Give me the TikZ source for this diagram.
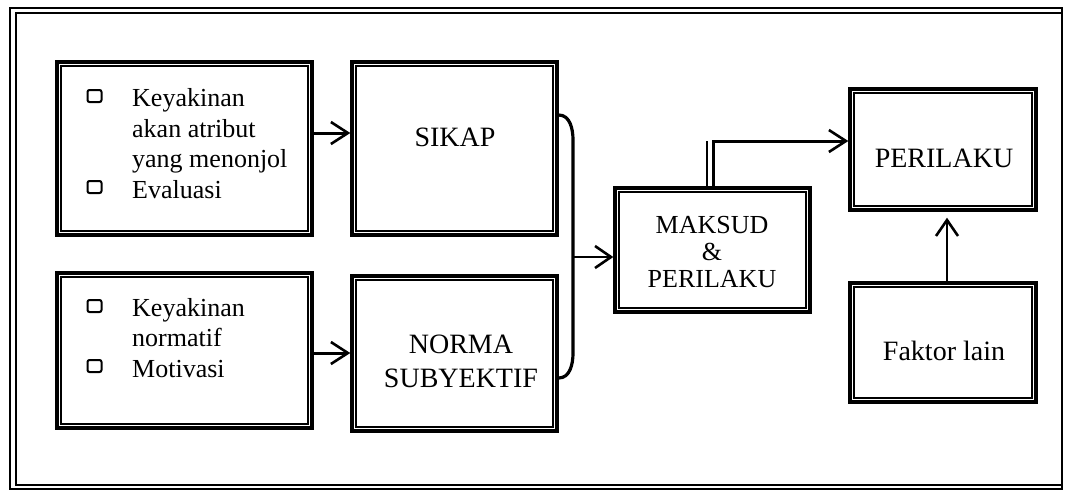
\documentclass[tikz,border=0pt]{standalone}
\usepackage{fontspec}
\setmainfont{Liberation Serif}
\usetikzlibrary{arrows.meta}
\tikzset{
  px/.style={x=1pt,y=-1pt},
  dbox/.style={draw,rectangle,line width=3.4pt,inner sep=0pt},
  lbl/.style={font=\fontsize{28}{34}\selectfont,align=center,inner sep=0pt},
  small/.style={font=\fontsize{26}{27}\selectfont,align=center,inner sep=0pt},
  listtxt/.style={font=\fontsize{26}{30.5}\selectfont,align=left,inner sep=0pt,anchor=base west},
  bul/.style={draw,rectangle,rounded corners=2pt,line width=2pt,minimum width=14pt,minimum height=12pt,inner sep=0pt},
  conn/.style={line width=3pt,-{Straight Barb[length=17pt,width=22pt,line width=2.6pt]}},
  thinconn/.style={line width=2.2pt,-{Straight Barb[length=16pt,width=22pt,line width=2.6pt]}},
}
\newcommand{\innerframe}[1]{\draw[line width=2pt] ([shift={(5.5pt,-5.5pt)}]#1.north west) rectangle ([shift={(-5.5pt,5.5pt)}]#1.south east);}
\begin{document}
\begin{tikzpicture}[px]
\useasboundingbox (0,0) rectangle (1067,493);
% outer frame
\draw[line width=2.4pt] (10,8) rectangle (1062,489);
\draw[line width=1.8pt] (1062,13) -- (16,13) -- (16,485) -- (1062,485);
% boxes
\node[dbox,minimum width=255pt,minimum height=173pt] (b1) at (184.5,148.5) {};
\node[dbox,minimum width=205pt,minimum height=173pt] (sikap) at (454.5,148.5) {};
\node[dbox,minimum width=255pt,minimum height=155pt] (b2) at (184.5,350.5) {};
\node[dbox,minimum width=205pt,minimum height=155pt] (norma) at (454.5,353.5) {};
\node[dbox,minimum width=195pt,minimum height=124pt] (maksud) at (712.5,250) {};
\node[dbox,minimum width=186pt,minimum height=121pt] (perilaku) at (943,149.5) {};
\node[dbox,minimum width=186pt,minimum height=119pt] (faktor) at (943,342.5) {};
\innerframe{b1}\innerframe{sikap}\innerframe{b2}\innerframe{norma}
\innerframe{maksud}\innerframe{perilaku}\innerframe{faktor}
% texts
\node[lbl] (sikapT) at (455,137) {SIKAP};
\node[lbl] (normaT) at (461,361) {NORMA\\SUBYEKTIF};
\node[small] (maksudT) at (712,252) {MAKSUD\\\&\\PERILAKU};
\node[lbl] (perilakuT) at (944,158) {PERILAKU};
\node[lbl] (faktorT) at (944,351) {Faktor lain};
\node[listtxt] (l1) at (132,198) {Keyakinan\\akan atribut\\yang menonjol\\Evaluasi};
\node[listtxt] (l2) at (132,377) {Keyakinan\\normatif\\Motivasi};
\node[bul] (k1) at (94.5,96) {};
\node[bul] (k2) at (94.5,187) {};
\node[bul] (k3) at (94.5,306) {};
\node[bul] (k4) at (94.5,366) {};
% connectors
\draw[conn] (b1.east |- 0,133) -- (sikap.west |- 0,133);
\draw[conn] (b2.east |- 0,353) -- (norma.west |- 0,353);
\draw[line width=3.2pt] (sikap.east |- 0,115) to[out=0,in=90] (573,140) coordinate (bt)
  -- (573,353) to[out=-90,in=0] (norma.east |- 0,378);
\coordinate (bm) at (573,257);
\draw[thinconn] (bm) -- (maksud.west |- bm);
\draw[conn] (maksud.north -| 713,0) -- (713,141) -- (perilaku.west |- 0,141);
\draw[line width=2.2pt] (maksud.north -| 707,0) -- (707,141);
\draw[thinconn,shorten >=6pt] (faktor.north -| 947,0) -- (perilaku.south -| 947,0);
\end{tikzpicture}
\end{document}
